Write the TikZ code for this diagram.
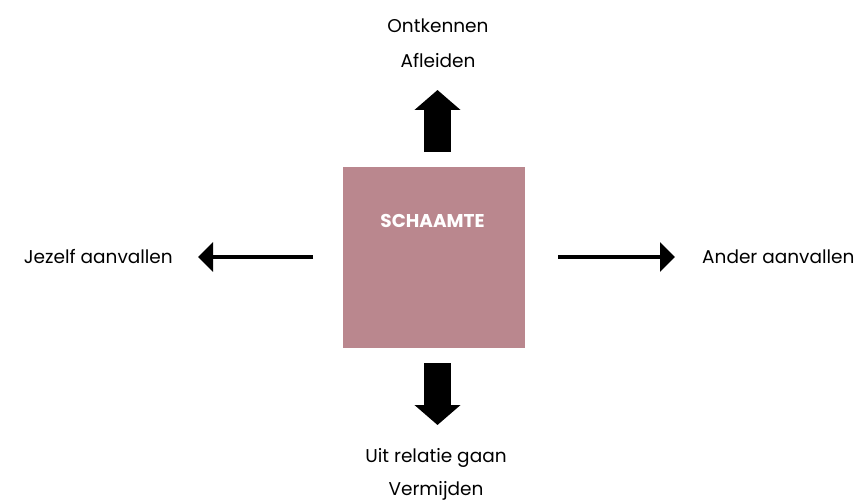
\documentclass[tikz,border=0pt]{standalone}
\usepackage{fontspec}
\setmainfont{Poppins}
\usetikzlibrary{arrows.meta}
\definecolor{shame}{RGB}{186,135,142}
\tikzset{
  lbl/.style={font=\fontsize{18.5}{35}\selectfont, text=black, inner sep=0pt},
  blockarrow/.style={line width=27pt, -{Triangle[length=20pt,width=45pt]}},
  thinarrow/.style={line width=4.5pt, -{Triangle[length=15pt,width=29pt]}},
}
\begin{document}
\begin{tikzpicture}[x=1pt,y=-1pt]
\useasboundingbox (0,0) rectangle (856,500);
% central square
\node[fill=shame, minimum width=182pt, minimum height=181pt, inner sep=0pt, draw=none] (sq) at (434,257.5) {};
\node[font=\fontsize{18.5}{20}\selectfont\bfseries, text=white, inner sep=0pt, anchor=base] (title) at (432.5,227) {SCHAAMTE};
% arrow end points
\coordinate (upS) at (437.5,152);
\coordinate (upE) at (437.5,90);
\coordinate (dnS) at (437.5,363);
\coordinate (dnE) at (437.5,425);
\coordinate (lfS) at (313,257);
\coordinate (lfE) at (198,257);
\coordinate (rtS) at (558,257);
\coordinate (rtE) at (675,257);
\draw[blockarrow] (upS) -- (upE);
\draw[blockarrow] (dnS) -- (dnE);
\draw[thinarrow] (lfS) -- (lfE);
\draw[thinarrow] (rtS) -- (rtE);
% labels
\node[lbl, anchor=base] (top1) at (438,33) {Ontkennen};
\node[lbl, anchor=base] (top2) at (438,68) {Afleiden};
\node[lbl, anchor=base] (bot1) at (436,462) {Uit relatie gaan};
\node[lbl, anchor=base] (bot2) at (436,495) {Vermijden};
\node[lbl, anchor=base east] (left) at (173,263) {Jezelf aanvallen};
\node[lbl, anchor=base west] (right) at (702,263) {Ander aanvallen};
\end{tikzpicture}
\end{document}
